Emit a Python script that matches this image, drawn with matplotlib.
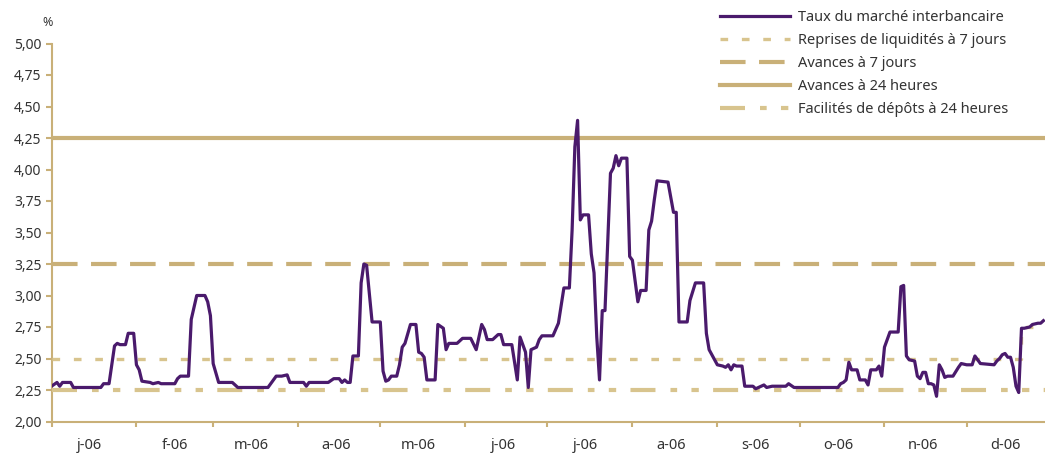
import matplotlib
matplotlib.use("Agg")
import matplotlib.pyplot as plt
import matplotlib.dates as mdates
from matplotlib.ticker import FixedLocator, FuncFormatter, NullFormatter
import numpy as np
import pandas as pd
from datetime import datetime

# taux du marche interbancaire 2006
taux_dates = [
    "01-01", "01-03", "01-04", "01-05", "01-08", "01-09", "01-19", "01-20", "01-22", "01-24",
    "01-25", "01-26", "01-28", "01-29", "01-31",
    "02-01", "02-02", "02-03", "02-06", "02-07", "02-09", "02-10", "02-15", "02-16", "02-17",
    "02-20", "02-21", "02-23", "02-26", "02-27", "02-28",
    "03-01", "03-03", "03-08", "03-10", "03-21", "03-24", "03-26", "03-28", "03-29",
    "04-03", "04-04", "04-05", "04-12", "04-14", "04-16", "04-17", "04-18", "04-19", "04-20",
    "04-21", "04-23", "04-24", "04-25", "04-26", "04-28",
    "05-01", "05-02", "05-03", "05-04", "05-05", "05-07", "05-08", "05-09", "05-10", "05-12",
    "05-14", "05-15", "05-16", "05-17", "05-18", "05-21", "05-22", "05-24", "05-25", "05-26",
    "05-29", "05-31",
    "06-03", "06-05", "06-07", "06-08", "06-09", "06-11", "06-13", "06-14", "06-15", "06-18",
    "06-20", "06-21", "06-23", "06-24", "06-25", "06-27", "06-28", "06-29",
    "07-03", "07-05", "07-07", "07-09", "07-10", "07-11", "07-12", "07-13", "07-14", "07-16",
    "07-17", "07-18", "07-19", "07-20", "07-21", "07-22", "07-24", "07-25", "07-26", "07-27",
    "07-28", "07-30", "07-31",
    "08-01", "08-03", "08-04", "08-06", "08-07", "08-08", "08-09", "08-10", "08-14", "08-16",
    "08-17", "08-18", "08-21", "08-22", "08-24", "08-27", "08-28", "08-29", "08-31",
    "09-01", "09-03", "09-04", "09-05", "09-06", "09-07", "09-08", "09-10", "09-11", "09-14",
    "09-15", "09-18", "09-19", "09-21", "09-26", "09-27", "09-29",
    "10-15", "10-16", "10-17", "10-18", "10-19", "10-20", "10-22", "10-23", "10-25", "10-26",
    "10-27", "10-29", "10-30", "10-31",
    "11-01", "11-03", "11-06", "11-07", "11-08", "11-09", "11-10", "11-12", "11-13", "11-14",
    "11-15", "11-16", "11-17", "11-18", "11-19", "11-20", "11-21", "11-22", "11-23", "11-24",
    "11-26", "11-28", "11-29",
    "12-01", "12-03", "12-04", "12-05", "12-06", "12-11", "12-12", "12-13", "12-14", "12-15",
    "12-16", "12-17", "12-18", "12-19", "12-20", "12-21", "12-22", "12-24", "12-25", "12-27",
    "12-28", "12-29",
]
taux_values = [
    2.28, 2.31, 2.28, 2.31, 2.31, 2.27, 2.27, 2.30, 2.30, 2.60,
    2.62, 2.61, 2.61, 2.70, 2.70,
    2.45, 2.41, 2.32, 2.31, 2.30, 2.31, 2.30, 2.30, 2.34, 2.36,
    2.36, 2.81, 3.00, 3.00, 2.95, 2.84,
    2.46, 2.31, 2.31, 2.27, 2.27, 2.36, 2.36, 2.37, 2.31,
    2.31, 2.28, 2.31, 2.31, 2.34, 2.34, 2.31, 2.33, 2.31, 2.31,
    2.52, 2.52, 3.10, 3.25, 3.24, 2.79,
    2.79, 2.40, 2.32, 2.33, 2.36, 2.36, 2.45, 2.59, 2.62, 2.77,
    2.77, 2.55, 2.54, 2.51, 2.33, 2.33, 2.77, 2.74, 2.57, 2.62,
    2.62, 2.66,
    2.66, 2.57, 2.77, 2.73, 2.65, 2.65, 2.69, 2.69, 2.61, 2.61,
    2.33, 2.67, 2.55, 2.27, 2.57, 2.59, 2.65, 2.68,
    2.68, 2.78, 3.06, 3.06, 3.52, 4.18, 4.39, 3.60, 3.64, 3.64,
    3.33, 3.18, 2.67, 2.33, 2.88, 2.88, 3.97, 4.01, 4.11, 4.03,
    4.09, 4.09, 3.31,
    3.28, 2.95, 3.04, 3.04, 3.52, 3.59, 3.76, 3.91, 3.90, 3.66,
    3.66, 2.79, 2.79, 2.96, 3.10, 3.10, 2.70, 2.57, 2.49,
    2.45, 2.44, 2.43, 2.45, 2.41, 2.45, 2.44, 2.44, 2.28, 2.28,
    2.26, 2.29, 2.27, 2.28, 2.28, 2.30, 2.27,
    2.27, 2.30, 2.31, 2.33, 2.47, 2.41, 2.41, 2.33, 2.33, 2.29,
    2.41, 2.41, 2.44, 2.36,
    2.59, 2.71, 2.71, 3.07, 3.08, 2.52, 2.49, 2.48, 2.36, 2.34,
    2.39, 2.39, 2.30, 2.30, 2.29, 2.20, 2.45, 2.41, 2.35, 2.36,
    2.36, 2.43, 2.46,
    2.45, 2.45, 2.52, 2.49, 2.46, 2.45, 2.48, 2.50, 2.53, 2.54,
    2.51, 2.51, 2.43, 2.28, 2.23, 2.74, 2.74, 2.75, 2.77, 2.78,
    2.78, 2.80,
]

# taux directeurs
repo_dates = ["01-01", "12-21", "12-21", "12-31"]
repo_values = [2.50, 2.50, 2.75, 2.75]
avances_7j = 3.25
avances_24h = 4.25
depots_24h = 2.25

labels = ["Taux du marché interbancaire", "Reprises de liquidités à 7 jours",
          "Avances à 7 jours", "Avances à 24 heures", "Facilités de dépôts à 24 heures"]
mois = ["j", "f", "m", "a", "m", "j", "j", "a", "s", "o", "n", "d"]
yticks = [2.00, 2.25, 2.50, 2.75, 3.00, 3.25, 3.50, 3.75, 4.00, 4.25, 4.50, 4.75, 5.00]

violet = "#4a1a6c"
tan = "#c9b078"
tan_clair = "#d8c48e"
gris = "#333333"

plt.rcParams['font.family'] = ['Noto Sans', 'DejaVu Sans']
plt.rcParams['lines.scale_dashes'] = False

fig = plt.figure(figsize=(10.45, 4.55), dpi=100)
ax = fig.add_axes([51.5 / 1045, 33.5 / 455, 993.5 / 1045, 378 / 455])

def to_dt(lst):
    return pd.to_datetime(["2006-" + d for d in lst])

ax.plot(to_dt(taux_dates), taux_values, color=violet, lw=2.3, zorder=5, label=labels[0])
ax.plot(to_dt(repo_dates), repo_values, color=tan_clair, lw=2.4, dashes=(5.5, 9.9),
        zorder=3, label=labels[1])
ax.axhline(avances_7j, color=tan, lw=3, dashes=(18.4, 9.7), zorder=3, label=labels[2])
ax.axhline(avances_24h, color=tan, lw=3, zorder=3, label=labels[3])
ax.axhline(depots_24h, color=tan_clair, lw=3, dashes=(18, 10.8, 4.8, 10.3, 5.3, 10.3),
           zorder=3, label=labels[4])

ax.set_xlim(datetime(2006, 1, 1), datetime(2006, 12, 29, 14))
ax.set_ylim(2.0, 5.0)

ax.xaxis.set_major_locator(mdates.MonthLocator())
ax.xaxis.set_major_formatter(NullFormatter())
ax.xaxis.set_minor_locator(mdates.MonthLocator(bymonthday=15))
ax.xaxis.set_minor_formatter(FuncFormatter(
    lambda v, p: mois[mdates.num2date(v).month - 1] + "-06"))

ax.yaxis.set_major_locator(FixedLocator(yticks))
ax.yaxis.set_major_formatter(FuncFormatter(lambda v, p: ("%.2f" % v).replace(".", ",")))

for s in ["top", "right"]:
    ax.spines[s].set_visible(False)
for s in ["left", "bottom"]:
    ax.spines[s].set_color(tan)
    ax.spines[s].set_linewidth(1.5)

ax.tick_params(axis='y', length=4.3, width=1.5, color=tan, labelsize=10,
               labelcolor=gris, pad=3)
ax.tick_params(axis='x', which='major', length=3.6, width=1.5, color=tan)
ax.tick_params(axis='x', which='minor', length=0, labelsize=10.5, labelcolor=gris, pad=12)

fig.text(48 / 1045, 1 - 22 / 455, "%", ha='center', va='center', fontsize=9, color=gris)

leg = ax.legend(loc='upper left', bbox_to_anchor=(720 / 1045, 1 - 10 / 455),
                bbox_transform=fig.transFigure, frameon=False, fontsize=10.5,
                handlelength=4.8, handletextpad=0.55, labelspacing=0.55, borderpad=0,
                borderaxespad=0)
for t in leg.get_texts():
    t.set_color(gris)

fig.savefig("out.png", dpi=100)
